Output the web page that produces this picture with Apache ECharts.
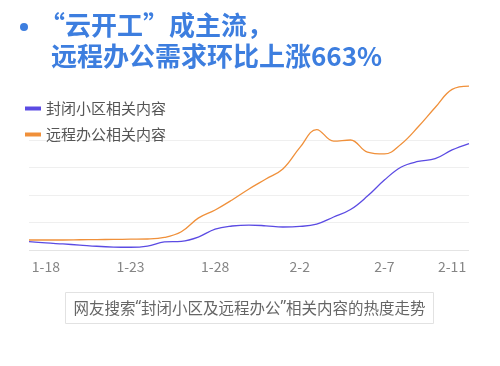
<!DOCTYPE html>
<html>
<head>
<meta charset="utf-8">
<script src="https://cdn.jsdelivr.net/npm/echarts@6/dist/echarts.min.js"></script>
<style>
html,body{margin:0;padding:0;background:#fff;}
#chart{width:500px;height:366px;}
</style>
</head>
<body>
<div id="chart"></div>
<script>
// Categories: daily dates
const dates = ['1-17','1-18','1-19','1-20','1-21','1-22','1-23','1-24','1-25','1-26','1-27','1-28','1-29','1-30','1-31','2-1','2-2','2-3','2-4','2-5','2-6','2-7','2-8','2-9','2-10','2-11','2-12'];
// Tick labels shown on the x axis
const tickLabels = ['1-18','1-23','1-28','2-2','2-7','2-11'];
// Series names
const seriesNames = ['封闭小区相关内容','远程办公相关内容'];
// 封闭小区相关内容 (heat index, relative)
const closedCommunity = [7.7,6.4,5.5,4.5,3.4,2.7,2.5,3.6,7.3,7.9,11.8,19,21.8,22.7,22,20.9,21.4,23.6,30,36.8,49,63.6,75.5,80.5,83,91,96.8];
// 远程办公相关内容 (heat index, relative)
const remoteWork = [9.1,9.1,9.1,9.3,9.5,9.6,9.8,10,11.4,16.6,29,36.4,45.5,55.5,64.5,73.6,93,109.5,99,100,89,87.3,96.4,112,129.5,146,149];
// Text
const titleLine1 = '“云开工”成主流，';
const titleLine2 = '远程办公需求环比上涨663%';
const caption = '网友搜索“封闭小区及远程办公”相关内容的热度走势';

const FONT = '"Noto Sans CJK SC", "Noto Sans", sans-serif';
const captionRich = caption.replace(/“/g, '{q|“}').replace(/”/g, '{q|”}');

const chart = echarts.init(document.getElementById('chart'), null, {renderer:'canvas'});
const option = {
  backgroundColor: '#ffffff',
  animation: false,
  textStyle: {fontFamily: FONT},
  grid: {left: 29, right: 31, top: 85, bottom: 116},
  legend: {
    data: seriesNames,
    orient: 'vertical',
    left: 20,
    top: 96,
    icon: 'rect',
    itemWidth: 16,
    itemHeight: 4,
    itemGap: 11,
    textStyle: {fontSize: 15, color: '#555555', fontFamily: FONT}
  },
  xAxis: {
    type: 'category',
    data: dates,
    boundaryGap: false,
    axisLine: {show: false},
    axisTick: {show: false},
    axisLabel: {
      interval: (i, v) => tickLabels.indexOf(v) >= 0,
      color: '#858585',
      fontSize: 14,
      margin: 10,
      fontFamily: FONT
    },
    splitLine: {show: false}
  },
  yAxis: {
    type: 'value',
    min: 0,
    max: 150,
    interval: 25,
    axisLabel: {show: false},
    axisLine: {show: false},
    axisTick: {show: false},
    splitLine: {
      show: true,
      lineStyle: {
        width: 1,
        color: ['#e4e4e4','#efefef','#efefef','#efefef','#efefef','rgba(0,0,0,0)','rgba(0,0,0,0)']
      }
    }
  },
  series: [
    {
      name: seriesNames[0],
      type: 'line',
      data: closedCommunity,
      smooth: 0.4,
      symbol: 'none',
      clip: false,
      itemStyle: {color: '#5b4be3'},
      lineStyle: {color: '#5b4be3', width: 1.3}
    },
    {
      name: seriesNames[1],
      type: 'line',
      data: remoteWork,
      smooth: 0.4,
      symbol: 'none',
      clip: false,
      itemStyle: {color: '#f0903a'},
      lineStyle: {color: '#f0903a', width: 1.3}
    }
  ],
  graphic: [
    {type: 'circle', shape: {cx: 24, cy: 27, r: 4}, style: {fill: '#3d7edf'}},
    {type: 'text', left: 39, top: 12, style: {text: titleLine1, fill: '#3d7edf', font: 'bold 26px ' + FONT}},
    {type: 'text', left: 51, top: 43, style: {text: titleLine2, fill: '#3d7edf', font: 'bold 26px ' + FONT}},
    {type: 'rect', shape: {x: 65.5, y: 292.5, width: 368, height: 31}, style: {fill: '#ffffff', stroke: '#e2e2e2', lineWidth: 1}},
    {type: 'text', x: 249.5, y: 308, style: {
      text: captionRich, fill: '#666666', font: '15.5px ' + FONT, align: 'center', verticalAlign: 'middle',
      rich: {q: {fontFamily: '"Noto Sans", sans-serif', fontSize: 15.5, fill: '#666666'}}
    }}
  ]
};
chart.setOption(option);
</script>
</body>
</html>
